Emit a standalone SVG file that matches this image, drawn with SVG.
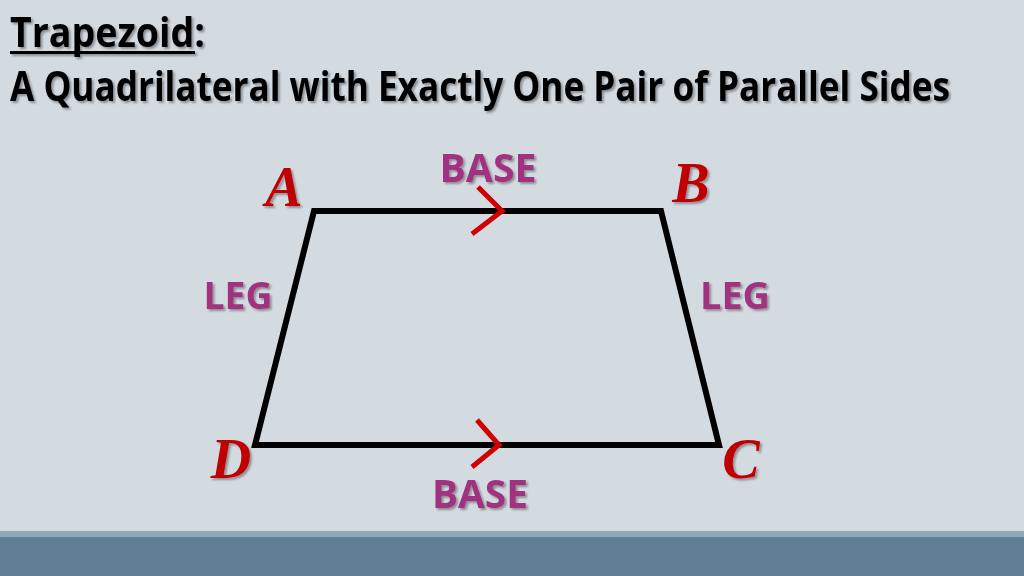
<svg xmlns="http://www.w3.org/2000/svg" width="1024" height="576" viewBox="0 0 1024 576">
<defs>
<filter id="sh" x="-10%" y="-10%" width="120%" height="130%">
<feDropShadow dx="2" dy="2" stdDeviation="1.2" flood-color="#000" flood-opacity="0.35"/>
</filter>
<style>
.title{font-family:"Open Sans","Liberation Sans",sans-serif;font-weight:bold;fill:#000;}
.lbl{font-family:"Open Sans","Liberation Sans",sans-serif;font-weight:bold;fill:#a0307f;text-anchor:middle;}
.vtx{font-family:"Liberation Serif","DejaVu Serif",serif;font-weight:bold;font-style:italic;fill:#c00000;font-size:56px;text-anchor:middle;}
.edge{fill:none;stroke:#000;stroke-width:6;stroke-linejoin:miter;}
.tick{fill:none;stroke:#d00000;stroke-width:5;stroke-linecap:butt;}
</style>
</defs>
<rect x="0" y="0" width="1024" height="576" fill="#d3dbe1"/>
<rect x="0" y="531" width="1024" height="6" fill="#91a8b8"/>
<rect x="0" y="537" width="1024" height="39" fill="#5f7f95"/>
<g id="title" filter="url(#sh)">
<text class="title" x="10" y="47" font-size="41" textLength="195" lengthAdjust="spacingAndGlyphs">Trapezoid:</text>
<rect x="10" y="51" width="185" height="3" fill="#000"/>
<text class="title" transform="translate(10,101) scale(1,1.2)" x="0" y="0" font-size="34" textLength="940" lengthAdjust="spacingAndGlyphs">A Quadrilateral with Exactly One Pair of Parallel Sides</text>
</g>
<g id="connectors">
<polygon id="trapezoid" class="edge" points="314,211 661,211 719,445 255,445"/>
<polyline class="tick" points="478,187 502,211 472,234"/>
<polyline class="tick" points="477,420 499,445 472,467"/>
</g>
<g id="vertex-A" filter="url(#sh)"><text class="vtx" x="284" y="206">A</text></g>
<g id="vertex-B" filter="url(#sh)"><text class="vtx" x="691" y="202">B</text></g>
<g id="vertex-C" filter="url(#sh)"><text class="vtx" x="741" y="478">C</text></g>
<g id="vertex-D" filter="url(#sh)"><text class="vtx" x="231" y="478">D</text></g>
<g id="label-base-top" filter="url(#sh)"><text class="lbl" x="488" y="182" font-size="40" textLength="97" lengthAdjust="spacingAndGlyphs">BASE</text></g>
<g id="label-base-bottom" filter="url(#sh)"><text class="lbl" x="480" y="508" font-size="40" textLength="96" lengthAdjust="spacingAndGlyphs">BASE</text></g>
<g id="label-leg-left" filter="url(#sh)"><text class="lbl" x="238" y="309" font-size="37" textLength="69" lengthAdjust="spacingAndGlyphs">LEG</text></g>
<g id="label-leg-right" filter="url(#sh)"><text class="lbl" x="735" y="309" font-size="37" textLength="70" lengthAdjust="spacingAndGlyphs">LEG</text></g>
</svg>
